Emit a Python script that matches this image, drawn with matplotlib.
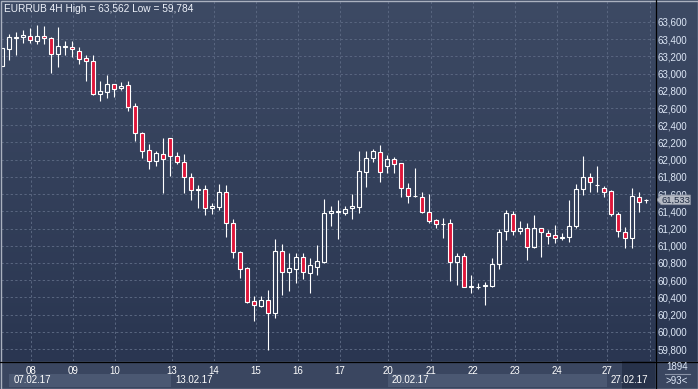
import matplotlib
matplotlib.use("Agg")
import matplotlib.pyplot as plt
import numpy as np
from matplotlib.colors import LinearSegmentedColormap
from matplotlib.patches import Polygon, Rectangle
from matplotlib.ticker import FixedLocator, FuncFormatter
from matplotlib.transforms import blended_transform_factory

# EURRUB, 4H candles, 93 bars visible
opens = [63091, 63289, 63410, 63421, 63436, 63382, 63436, 63410, 63231, 63312,
         63305, 63266, 63177, 63149, 62759, 62789, 62875, 62836, 62864, 62623,
         62306, 62108, 61988, 62062, 62248, 62046, 61969, 61795, 61650, 61656,
         61435, 61447, 61621, 61261, 60924, 60738, 60355, 60304, 60370, 60216,
         60939, 60699, 60734, 60870, 60687, 60750, 60815, 61377, 61394, 61377,
         61435, 61454, 61860, 62016, 62085, 61930, 62004, 61958, 61667, 61576,
         61563, 61389, 61296, 61248, 61261, 60815, 60881, 60523, 60518, 60535,
         60536, 60785, 61172, 61366, 61175, 61203, 60982, 61203, 61152, 61125,
         61093, 61105, 61233, 61656, 61795, 61704, 61674, 61636, 61365, 61156,
         61094, 61570, 61531]
highs = [63300, 63459, 63483, 63506, 63529, 63562, 63550, 63421, 63545, 63375,
         63378, 63305, 63216, 63212, 62914, 62983, 62880, 62899, 62910, 62662,
         62325, 62182, 62104, 62248, 62250, 62086, 62062, 61842, 61702, 61702,
         61493, 61717, 61706, 61311, 60939, 60757, 60417, 60417, 60486, 61079,
         61021, 60920, 60920, 60920, 60855, 61009, 61543, 61462, 61532, 61462,
         61601, 62101, 62101, 62127, 62170, 62054, 62027, 61965, 61732, 61900,
         61621, 61601, 61314, 61319, 61311, 60920, 60920, 60661, 60564, 60583,
         60855, 61191, 61415, 61404, 61288, 61261, 61358, 61210, 61183, 61242,
         61145, 61532, 61717, 62043, 61842, 61927, 61694, 61647, 61396, 61214,
         61667, 61628, 61543]
lows = [63091, 63158, 63219, 63358, 63358, 63343, 63343, 63010, 63080, 63219,
        63196, 63115, 62917, 62755, 62685, 62720, 62724, 62806, 62569, 62220,
        62023, 61895, 61926, 61609, 61814, 61946, 61616, 61532, 61442, 61354,
        61365, 61415, 61105, 60854, 60622, 60339, 60130, 60292, 59784, 60165,
        60428, 60475, 60564, 60614, 60448, 60661, 60803, 61230, 61079, 61358,
        61307, 61384, 61686, 61976, 61744, 61841, 61841, 61570, 61500, 61570,
        61385, 61268, 61206, 61094, 60594, 60544, 60520, 60455, 60498, 60312,
        60525, 60727, 61067, 61125, 61133, 60835, 60970, 60873, 61021, 61029,
        61067, 61048, 61210, 61590, 61628, 61628, 61570, 61349, 61105, 60977,
        60970, 61396, 61493]
closes = [63300, 63421, 63425, 63448, 63386, 63436, 63410, 63231, 63320, 63316,
          63282, 63166, 63149, 62759, 62794, 62875, 62821, 62859, 62615, 62306,
          62104, 61988, 62074, 62011, 62046, 61969, 61795, 61644, 61655, 61435,
          61465, 61625, 61261, 60924, 60727, 60350, 60307, 60370, 60216, 60939,
          60699, 60738, 60870, 60699, 60777, 60823, 61377, 61404, 61398, 61424,
          61462, 61868, 62016, 62097, 61860, 62004, 61946, 61667, 61581, 61580,
          61389, 61291, 61253, 61252, 60815, 60881, 60525, 60527, 60522, 60539,
          60785, 61163, 61377, 61175, 61203, 60982, 61203, 61156, 61117, 61087,
          61097, 61233, 61656, 61795, 61744, 61708, 61628, 61365, 61172, 61094,
          61578, 61512, 61533]

day_labels = ["08", "09", "10", "13", "14", "15", "16", "17",
              "20", "21", "22", "23", "24", "27", "28"]
day_pos = [4.1, 10.1, 16.1, 24.2, 30.2, 36.2, 42.2, 48.2,
           55.1, 61.2, 67.2, 73.3, 79.3, 86.4, 92.5]
week_labels = ["07.02.17", "13.02.17", "20.02.17", "27.02.17"]
week_pos = [1.0, 24.2, 55.1, 86.4]

price_ticks = list(range(59800, 63601, 200))
last_price = 61533
scale_value = 1894
visible_bars = 93

W, H = 698, 389
BG_TOP = "#3d4a64"
BG_BOT = "#2a3651"
PANEL = "#3a4660"
RED = "#e0163a"
GRID = "#58657f"
TXT = "#dde7f6"

plt.rcParams["font.family"] = ["Liberation Sans", "DejaVu Sans"]

fig = plt.figure(figsize=(W / 100, H / 100), dpi=100)
fig.patch.set_facecolor(PANEL)

# gradient behind plot and right price scale
bg = fig.add_axes([0, 1 - 361 / H, 1, 361 / H], zorder=0)
cmap = LinearSegmentedColormap.from_list("bg", [BG_BOT, BG_TOP])
bg.imshow(np.linspace(0, 1, 256).reshape(-1, 1)[::-1], aspect="auto",
          cmap=cmap, extent=[0, 1, 0, 1])
bg.axis("off")

ax = fig.add_axes([1 / W, 1 - 361 / H, 654 / W, 360 / H], zorder=1)
ax.set_facecolor("none")
ax.set_xlim((1 - 2.3) / 7, (655 - 2.3) / 7)
ax.set_ylim(63600 - (361 - 21.9) / 17.22 * 200, 63600 + (21.9 - 1) / 17.22 * 200)
for s in ax.spines.values():
    s.set_visible(False)

# grid
ax.yaxis.set_major_locator(FixedLocator(price_ticks))
ax.yaxis.set_major_formatter(FuncFormatter(lambda v, p: f"{int(v):,}"))
ax.yaxis.tick_right()
ax.tick_params(axis="y", length=0, pad=2, labelsize=7, labelcolor=TXT)
ax.set_xticks(day_pos)
ax.set_xticklabels(day_labels)
ax.tick_params(axis="x", length=0, pad=3.5, labelsize=7, labelcolor="white")
ax.get_xticklabels()[-1].set_color("#6f7a92")
ax.grid(True, color=GRID, linewidth=0.75, linestyle=(0, (2.2, 2.2)))
ax.set_axisbelow(True)

# candles
x = np.arange(len(opens))
o = np.array(opens)
c = np.array(closes)
top = np.maximum(o, c)
bot = np.minimum(o, c)
ax.vlines(x, top, highs, color="white", linewidth=0.8, zorder=2)
ax.vlines(x, lows, bot, color="white", linewidth=0.8, zorder=2)
down = c < o
ax.bar(x[down], (top - bot)[down], bottom=bot[down], width=0.6,
       color=RED, edgecolor="white", linewidth=0.8, zorder=3)
ax.bar(x[~down], np.maximum(top - bot, 4)[~down], bottom=bot[~down], width=0.6,
       color="none", edgecolor="white", linewidth=0.8, zorder=3)

# title
fig.text(4 / W, 1 - 8.5 / H,
         f"EURRUB 4H High = {max(highs):,} Low = {min(lows):,}",
         color="#eef2fa", fontsize=7.3, va="center", ha="left", zorder=5)

# week date row
xt = ax.get_xaxis_transform()
for i, (lab, pos) in enumerate(zip(week_labels, week_pos)):
    if i % 2 == 0 and i + 1 < len(week_pos):
        ax.add_patch(Rectangle((pos, -0.0714), week_pos[i + 1] - pos - 0.05, 0.0345,
                               transform=xt, facecolor="#4b5872", edgecolor="none",
                               clip_on=False, zorder=1))
    ax.text(pos + 0.55, -0.0535, lab, transform=xt, color="white", fontsize=7,
            ha="left", va="center", clip_on=False, zorder=4)
ax.add_patch(Rectangle(((622 - 2.3) / 7, -0.0778), (655 - 622) / 7, 0.0778,
                       transform=xt, facecolor="#27324a", edgecolor="none",
                       clip_on=False, zorder=1.5))

# last price tag
bt = blended_transform_factory(ax.transAxes, ax.transData)
hh = 4.8 * 200 / 17.22
tag = Polygon([(1.0024, last_price), (1.0095, last_price + hh), (1.054, last_price + hh),
               (1.054, last_price - hh), (1.0095, last_price - hh)],
              closed=True, transform=bt, facecolor="#b5bac4", edgecolor="#8d94a3",
              linewidth=0.6, clip_on=False, zorder=6)
ax.add_patch(tag)
ax.text(1.0105, last_price, f"{last_price:,}", transform=bt, color="#1e2a42",
        fontsize=6.8, ha="left", va="center", clip_on=False, zorder=7)

# frame lines and corner box
ov = fig.add_axes([0, 0, 1, 1], zorder=8)
ov.set_xlim(0, W)
ov.set_ylim(H, 0)
ov.axis("off")
ov.plot([655.5, 655.5], [0, H], color="black", linewidth=0.9)
ov.plot([0, W], [361.5, 361.5], color="black", linewidth=0.9)
ov.add_patch(Rectangle((0.5, 0.5), W - 1, H - 1, fill=False,
                       edgecolor="#aab1bf", linewidth=1))
ov.text(677, 367.5, str(scale_value), color=TXT, fontsize=7, ha="center", va="center")
ov.plot([665, 690], [374, 374], color="#8a93a8", linewidth=0.8)
ov.text(677, 381.5, f">{visible_bars}<", color=TXT, fontsize=7, ha="center", va="center")

fig.savefig("out.png", dpi=100, facecolor=fig.get_facecolor())
